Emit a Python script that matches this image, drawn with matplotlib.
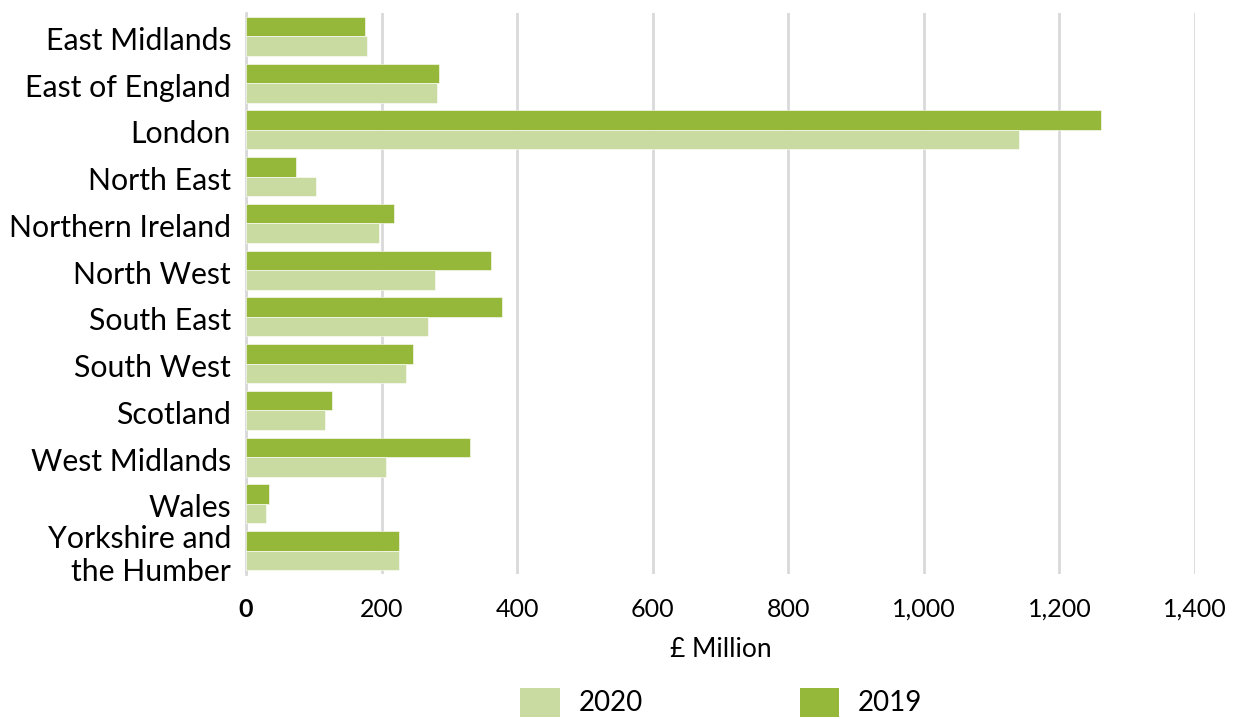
import matplotlib
matplotlib.use("Agg")
import matplotlib.pyplot as plt
import matplotlib.transforms as mtransforms
from matplotlib.patches import Patch

plt.rcParams['font.family'] = ['Lato', 'DejaVu Sans']

regions = ["East Midlands", "East of England", "London", "North East",
           "Northern Ireland", "North West", "South East", "South West",
           "Scotland", "West Midlands", "Wales", "Yorkshire and\nthe Humber"]
spend_2019 = [176, 285, 1262, 74, 219, 361, 378, 246, 127, 331, 34, 226]
spend_2020 = [179, 282, 1140, 103, 196, 279, 268, 236, 117, 206, 30, 226]
xticks = [0, 200, 400, 600, 800, 1000, 1200, 1400]
xtick_labels = ["0", "200", "400", "600", "800", "1,000", "1,200", "1,400"]

c2019 = "#95b73a"
c2020 = "#c9dba0"

fig = plt.figure(figsize=(12.39, 7.19), dpi=100)
ax = fig.add_axes([246/1239, 1-574/719, (1195-246)/1239, (574-13)/719])

pos = list(range(len(regions)))
h = 0.417
ax.barh([p - h/2 for p in pos], spend_2019, height=h, color=c2019,
        edgecolor="white", linewidth=0.4, zorder=3)
ax.barh([p + h/2 for p in pos], spend_2020, height=h, color=c2020,
        edgecolor="white", linewidth=0.4, zorder=3)

ax.set_ylim(len(regions) - 0.5, -0.5)
ax.set_xlim(0, 1400)
ax.set_yticks(pos)
ax.set_yticklabels([])

# category labels, nudged slightly below each group's centre
label_tf = ax.get_yaxis_transform() + mtransforms.ScaledTranslation(
    -15/100, -4.5/100, fig.dpi_scale_trans)
for p, name in zip(pos, regions):
    ax.text(0, p, name, transform=label_tf, ha="right", va="center",
            fontsize=21.8, linespacing=1.22, multialignment="right")

ax.set_xticks(xticks)
ax.set_xticklabels(xtick_labels, fontsize=18)
ax.get_xticklabels()[0].set_fontweight("bold")
ax.tick_params(axis="y", length=0)
ax.tick_params(axis="x", length=0, pad=17)

ax.grid(axis="x", color="#d9d9d9", linewidth=2, zorder=0)
for s in ["top", "right", "bottom"]:
    ax.spines[s].set_visible(False)
ax.spines["left"].set_color("#d9d9d9")
ax.spines["left"].set_linewidth(2)

ax.set_xlabel("£ Million", fontsize=19, labelpad=12)

handles = [Patch(facecolor=c2020, label="2020"), Patch(facecolor=c2019, label="2019")]
fig.legend(handles=handles, loc="lower center", bbox_to_anchor=(0.582, -0.012),
           ncol=2, frameon=False, fontsize=20, handlelength=1.43, handleheight=1.22,
           handletextpad=0.66, columnspacing=5.65, borderaxespad=0)

fig.savefig("out.png", dpi=100)
